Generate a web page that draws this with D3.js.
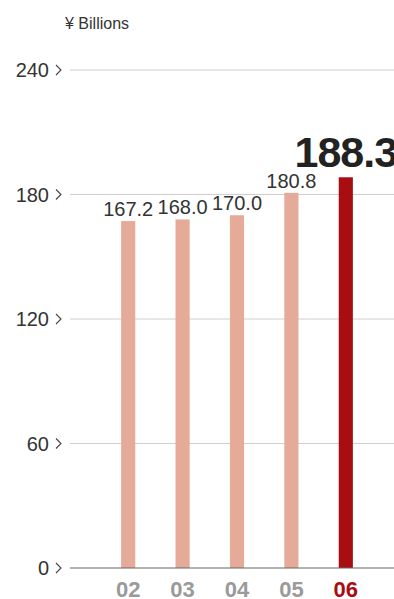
<!DOCTYPE html>
<html>
<head>
<meta charset="utf-8">
<script src="https://cdn.jsdelivr.net/npm/d3@7"></script>
<style>
  html, body { margin: 0; padding: 0; background: #fff; }
  svg { display: block; font-family: "Liberation Sans", Arial, sans-serif; }
</style>
</head>
<body>
<svg id="chart"></svg>
<script>
// Chart data
const years = ['02', '03', '04', '05', '06'];
const sales = [167.2, 168.0, 170.0, 180.8, 188.3];
const yTicks = [0, 60, 120, 180, 240];
const unitLabel = '¥ Billions';

const width = 394, height = 599;
const svg = d3.select('#chart').attr('width', width).attr('height', height);

// Scales
const x = d3.scaleBand()
  .domain(years)
  .range([101, 373])
  .paddingInner(0.74)
  .paddingOuter(0.37);

const y = d3.scaleLinear()
  .domain([0, 240])
  .range([568, 70]);

const last = years[years.length - 1];

// Gridlines
svg.append('g')
  .selectAll('line')
  .data(yTicks.filter(d => d > 0))
  .join('line')
  .attr('x1', 70).attr('x2', width)
  .attr('y1', d => y(d)).attr('y2', d => y(d))
  .attr('stroke', '#cfcfcf')
  .attr('stroke-width', 1);

// Tick labels with a small chevron
const ticks = svg.append('g')
  .selectAll('g')
  .data(yTicks)
  .join('g')
  .attr('transform', d => `translate(0,${y(d)})`);

ticks.append('text')
  .attr('x', 49)
  .attr('dy', '0.36em')
  .attr('text-anchor', 'end')
  .attr('fill', '#333')
  .style('font-size', '20px')
  .text(d => d);

ticks.append('path')
  .attr('d', 'M56,-5 L61,0 L56,5')
  .attr('fill', 'none')
  .attr('stroke', '#444')
  .attr('stroke-width', 1.1);

// Unit label
svg.append('text')
  .attr('x', 65)
  .attr('y', 29)
  .attr('fill', '#333')
  .style('font-size', '16px')
  .text(unitLabel);

// Bars
const data = years.map((yr, i) => ({ year: yr, value: sales[i] }));

svg.append('g')
  .selectAll('rect')
  .data(data)
  .join('rect')
  .attr('x', d => x(d.year))
  .attr('width', x.bandwidth())
  .attr('y', d => y(d.value))
  .attr('height', d => y(0) - y(d.value))
  .attr('fill', d => d.year === last ? '#a80d12' : '#e5ab98');

// Baseline
svg.append('line')
  .attr('x1', 70).attr('x2', width)
  .attr('y1', y(0)).attr('y2', y(0))
  .attr('stroke', '#666')
  .attr('stroke-width', 1.2);

// Value labels
svg.append('g')
  .selectAll('text')
  .data(data)
  .join('text')
  .attr('x', d => x(d.year) + x.bandwidth() / 2)
  .attr('y', d => d.year === last ? y(d.value) - 10 : y(d.value) - 5)
  .attr('text-anchor', 'middle')
  .attr('fill', d => d.year === last ? '#222' : '#333')
  .style('font-size', d => d.year === last ? '43px' : '20px')
  .style('font-weight', d => d.year === last ? 'bold' : 'normal')
  .style('letter-spacing', d => d.year === last ? '-1px' : '0px')
  .text(d => d.value.toFixed(1));

// Year labels
svg.append('g')
  .selectAll('text')
  .data(years)
  .join('text')
  .attr('x', d => x(d) + x.bandwidth() / 2)
  .attr('y', 597)
  .attr('text-anchor', 'middle')
  .attr('fill', d => d === last ? '#a80d12' : '#9a9a9a')
  .style('font-size', '22px')
  .style('font-weight', 'bold')
  .text(d => d);
</script>
</body>
</html>
